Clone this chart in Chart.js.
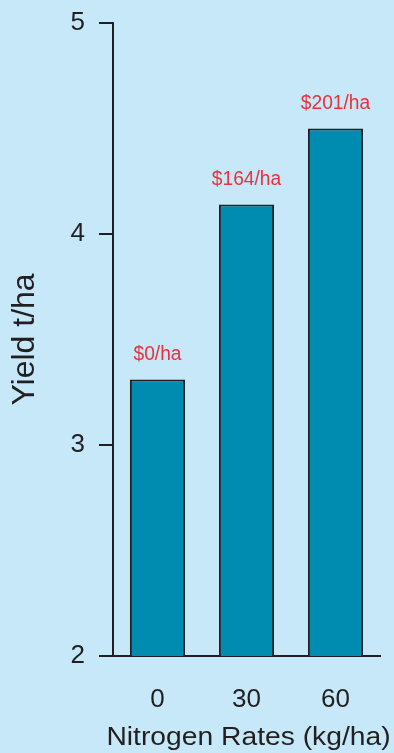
<!DOCTYPE html>
<html>
<head>
<meta charset="utf-8">
<script src="https://cdn.jsdelivr.net/npm/chart.js@4"></script>
<style>
  html, body { margin: 0; padding: 0; background: #c6e8f8; }
  canvas { display: block; }
</style>
</head>
<body>
<canvas id="chart" width="394" height="753"></canvas>
<script>
  // Nitrogen rate trial data
  const rates = ['0', '30', '60'];
  const yields = [3.31, 4.14, 4.5];
  const returns = ['$0/ha', '$164/ha', '$201/ha'];
  const xTitle = 'Nitrogen Rates (kg/ha)';

  const ink = '#231f20';
  const font = '"Liberation Sans", Arial, sans-serif';

  // red return labels above each bar (slightly condensed like the original)
  const returnLabels = {
    id: 'returnLabels',
    afterDatasetsDraw(chart) {
      const ctx = chart.ctx;
      const bars = chart.getDatasetMeta(0).data;
      ctx.save();
      ctx.fillStyle = '#e8323c';
      ctx.font = '20px ' + font;
      ctx.textAlign = 'center';
      ctx.textBaseline = 'middle';
      bars.forEach((bar, i) => {
        ctx.save();
        ctx.translate(bar.x, bar.y - 25);
        ctx.scale(0.96, 1);
        ctx.fillText(returns[i], 0, 0);
        ctx.restore();
      });
      ctx.restore();
    }
  };

  // x title is wider than the plot area in the original, so draw it here
  const wideXTitle = {
    id: 'wideXTitle',
    afterDraw(chart) {
      const ctx = chart.ctx;
      const area = chart.chartArea;
      ctx.save();
      ctx.fillStyle = ink;
      ctx.font = '25px ' + font;
      ctx.textAlign = 'center';
      ctx.textBaseline = 'middle';
      ctx.translate((area.left + area.right) / 2 + 2, chart.height - 15);
      ctx.scale(1.13, 1);
      ctx.fillText(xTitle, 0, 0);
      ctx.restore();
    }
  };

  new Chart(document.getElementById('chart'), {
    type: 'bar',
    data: {
      labels: rates,
      datasets: [{
        data: yields,
        backgroundColor: '#008cb0',
        borderColor: ink,
        borderWidth: 2,
        borderSkipped: false,
        categoryPercentage: 1,
        barPercentage: 0.62
      }]
    },
    options: {
      responsive: false,
      animation: false,
      layout: { padding: { top: 23, right: 14, left: 0, bottom: 0 } },
      plugins: { legend: { display: false }, tooltip: { enabled: false } },
      scales: {
        x: {
          grid: { drawOnChartArea: false, drawTicks: false },
          border: { display: true, color: ink, width: 2 },
          ticks: { color: ink, font: { family: font, size: 26 }, padding: 28 },
          afterFit(scale) {
            scale.height = 97;
            scale.paddingLeft = 0;
            scale.paddingRight = 0;
          }
        },
        y: {
          min: 2, max: 5,
          ticks: { stepSize: 1, color: ink, font: { family: font, size: 26 }, padding: 14 },
          grid: { drawOnChartArea: false, drawTicks: true, tickLength: 14, color: ink, lineWidth: 2 },
          border: { display: true, color: ink, width: 2 },
          title: {
            display: true, text: 'Yield t/ha', color: ink,
            font: { family: font, size: 32, lineHeight: 1 }, padding: { top: 9, bottom: 0 }
          },
          afterFit(scale) {
            scale.width = 113;
            scale.paddingTop = 0;
            scale.paddingBottom = 0;
          }
        }
      }
    },
    plugins: [returnLabels, wideXTitle]
  });
</script>
</body>
</html>
